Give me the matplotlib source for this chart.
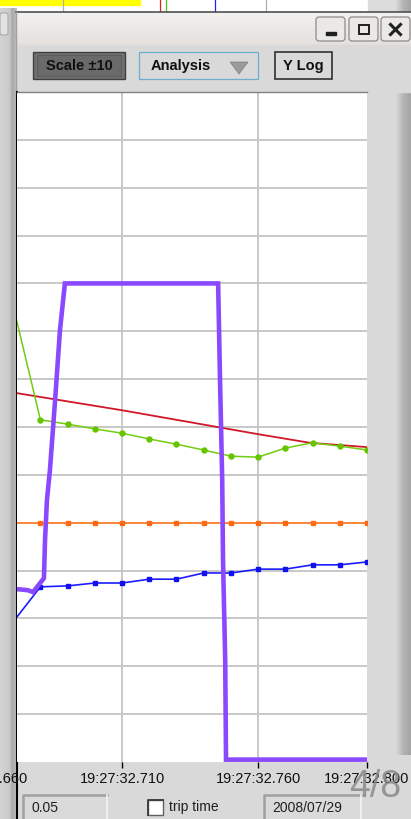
import matplotlib
matplotlib.use('Agg')
import matplotlib.pyplot as plt
import numpy as np
from matplotlib.patches import Rectangle, FancyBboxPatch, Polygon
from matplotlib.ticker import FuncFormatter, FixedLocator
from matplotlib.colors import to_rgb

plt.rcParams['font.family'] = ['Liberation Sans', 'DejaVu Sans']

# ---------------- data (time in ms after 19:27:32) ----------------
marker_t = [670, 680, 690, 700, 710, 720, 730, 740, 750, 760, 770, 780, 790, 800]
green_vals = [9.53, 7.15, 7.06, 6.96, 6.87, 6.75, 6.64, 6.52, 6.39, 6.37, 6.56, 6.67, 6.60, 6.52]
orange_vals = [5.0, 5.0, 5.0, 5.0, 5.0, 5.0, 5.0, 5.0, 5.0, 5.0, 5.0, 5.0, 5.0, 5.0]
blue_vals = [2.93, 3.66, 3.68, 3.74, 3.74, 3.82, 3.82, 3.95, 3.95, 4.03, 4.03, 4.12, 4.12, 4.18]

red_t = [670, 710, 739, 760, 779, 800]
red_vals = [7.72, 7.35, 7.06, 6.85, 6.67, 6.58]

purple_t = [670, 675.4, 677.3, 679.9, 681.3, 681.7, 682.4, 683.5, 685.4, 687.2, 689.0,
            745.3, 746.0, 746.8, 747.1, 747.9, 748.2, 800]
purple_vals = [3.62, 3.59, 3.55, 3.74, 3.84, 4.64, 5.47, 6.10, 7.56, 9.03, 10.0,
               10.0, 7.98, 5.89, 4.22, 2.13, 0.05, 0.05]

x_ticks = [710, 760, 800]
hidden_tick = 660
time_prefix = "19:27:32."
y_grid = [1, 2, 3, 4, 5, 6, 7, 8, 9, 10, 11, 12, 13]

W, H = 411, 819
fig = plt.figure(figsize=(W / 100, H / 100), dpi=100)
fig.patch.set_facecolor('#d9d9d9')

bg = fig.add_axes([0, 0, 1, 1], zorder=0)
bg.set_axis_off()


def grad(ax, x0, x1, y0, y1, stops, horizontal=True):
    n = 64
    pos = np.linspace(0, 1, n)
    sp = [s[0] for s in stops]
    cols = np.array([to_rgb(s[1]) for s in stops])
    arr = np.stack([np.interp(pos, sp, cols[:, k]) for k in range(3)], axis=-1)
    if horizontal:
        img = arr[np.newaxis, :, :]
    else:
        img = arr[:, np.newaxis, :]
    ax.imshow(img, extent=(x0, x1, y1, y0), origin='upper', aspect='auto',
              interpolation='bilinear', zorder=1)


# top strip (window behind)
bg.add_patch(Rectangle((0, 0), 368, 12, color='white', zorder=1))
bg.add_patch(Rectangle((0, 0), 140, 5, color='#ffff00', zorder=2))
for xx, c in [(63, '#b0b0b0'), (160, '#e02020'), (166, '#50c020'), (215, '#2020ff'), (266, '#b0b0b0')]:
    bg.plot([xx, xx], [0, 11], color=c, lw=0.9, zorder=2)
bg.add_patch(Rectangle((368, 0), 43, 12, color='#dcdcdc', zorder=1))

# right gradient strip
grad(bg, 396, 411, 0, 755, [(0, '#d8d8d8'), (0.5, '#b4b4b4'), (1, '#a4a4a4')])

# left strip (another window)
grad(bg, 0, 16, 8, 819, [(0, '#d4d4d4'), (0.55, '#cacaca'), (0.75, '#a8a8a8'), (1, '#c4c4c4')])
bg.add_patch(FancyBboxPatch((0, 13), 8, 22, boxstyle='round,pad=0,rounding_size=2',
                            fc='#e2e2e2', ec='#a8a8a8', lw=0.8, zorder=2))

# title bar
grad(bg, 16, 411, 12, 45, [(0, '#f4f2f0'), (1, '#e3e0dd')], horizontal=False)
bg.plot([16, 411], [12, 12], color='#505050', lw=1.2, zorder=3)
bg.plot([16, 16], [12, 92], color='#a0a0a0', lw=1.0, zorder=3)

# window buttons
for x0, glyph in [(316, 'min'), (349, 'max'), (381, 'close')]:
    bg.add_patch(FancyBboxPatch((x0, 17), 29, 24, boxstyle='round,pad=0,rounding_size=3',
                                fc='#ebe9e6', ec='#8c8c8c', lw=0.9, zorder=4))
    cx = x0 + 14.5
    if glyph == 'min':
        bg.add_patch(Rectangle((cx - 5, 32), 10, 2.5, color='#202020', zorder=5))
    elif glyph == 'max':
        bg.add_patch(Rectangle((cx - 5, 24.5), 10, 9.5, fill=False, ec='#202020', lw=1.4, zorder=5))
    else:
        bg.plot([cx - 5, cx + 5], [24.5, 34.5], color='#202020', lw=2.2, zorder=5)
        bg.plot([cx - 5, cx + 5], [34.5, 24.5], color='#202020', lw=2.2, zorder=5)

# toolbar
bg.add_patch(Rectangle((16, 45), 395, 47, color='#d9d9d9', zorder=2))
bg.add_patch(Rectangle((33, 52), 92, 27, fc='#707070', ec='#404040', lw=1.0, zorder=4))
bg.add_patch(Rectangle((37, 55), 84, 21, fc='#6a6a6a', ec='#5a5a5a', lw=0.6, zorder=4))
bg.text(79, 66, 'Scale ±10', ha='center', va='center', fontsize=10.5, weight='bold',
        color='#101010', zorder=5)
grad(bg, 139, 258, 52, 79, [(0, '#b8f0ff'), (1, '#94dcf4')], horizontal=False)
bg.add_patch(Rectangle((139, 52), 119, 27, fill=False, ec='#6aaed0', lw=0.9, zorder=4))
bg.text(181, 66, 'Analysis', ha='center', va='center', fontsize=10.5, weight='bold',
        color='#101010', zorder=5)
bg.add_patch(Polygon([[230, 62], [248, 62], [239, 74]], closed=True, fc='#9a9a9a',
                     ec='#808080', lw=0.5, zorder=5))
grad(bg, 275, 332, 52, 79, [(0, '#b8f0ff'), (1, '#94dcf4')], horizontal=False)
bg.add_patch(Rectangle((275, 52), 57, 27, fill=False, ec='#303030', lw=1.2, zorder=4))
bg.text(303, 66, 'Y Log', ha='center', va='center', fontsize=10.5, weight='bold',
        color='#101010', zorder=5)

# black left border of plot window
bg.plot([16.5, 16.5], [92, 819], color='black', lw=1.5, zorder=6)

# bottom widgets
for x0, x1, txt in [(23, 107, '0.05'), (264, 361, '2008/07/29')]:
    bg.add_patch(Rectangle((x0, 795), x1 - x0, 26, fc='#dadada', ec='none', zorder=3))
    bg.plot([x0, x0, x1], [821, 795, 795], color='#a0a0a0', lw=1.8, zorder=4)
    bg.plot([x1, x1], [795, 821], color='#f4f4f4', lw=1.2, zorder=4)
    bg.text(x0 + 8, 808, txt, ha='left', va='center', fontsize=10, color='#202020', zorder=5)
bg.add_patch(Rectangle((148, 800), 15, 15, fc='white', ec='#606060', lw=1.0, zorder=4))
bg.plot([148, 148, 163], [815, 800, 800], color='#404040', lw=1.4, zorder=5)
bg.text(169, 807, 'trip time', ha='left', va='center', fontsize=10, color='#202020', zorder=5)

bg.set_xlim(0, W)
bg.set_ylim(H, 0)

# ---------------- plot ----------------
ax = fig.add_axes([17 / W, 57 / H, 350 / W, 670 / H], zorder=1)
ax.set_facecolor('white')
ax.set_xlim(671.4, 800)
ax.set_ylim(0, 14)

for yv in y_grid:
    ax.axhline(yv, color='#c4c4c4', lw=1.3, zorder=1)
for xv in x_ticks[:-1]:
    ax.axvline(xv, color='#c4c4c4', lw=1.3, zorder=1)

ax.plot(red_t, red_vals, color='#d01828', lw=1.3, zorder=3)
ax.plot(marker_t, green_vals, color='#72cc10', lw=1.1, marker='o', ms=3.6,
        mfc='#66c400', mec='#66c400', zorder=3)
ax.plot(marker_t, orange_vals, color='#ff8030', lw=1.3, marker='s', ms=3.4,
        mfc='#ff6a10', mec='#ff6a10', zorder=3)
ax.plot(marker_t, blue_vals, color='#1c1cff', lw=1.2, marker='s', ms=3.4,
        mfc='#1010f0', mec='#1010f0', zorder=3)
ax.plot(purple_t, purple_vals, color='#8a48ff', lw=3.3, zorder=4,
        solid_joinstyle='miter')

ax.xaxis.set_major_locator(FixedLocator(x_ticks))
ax.xaxis.set_major_formatter(FuncFormatter(lambda v, p: f"{time_prefix}{int(round(v)):03d}"))
ax.tick_params(axis='x', direction='out', length=4.5, width=1.0, color='black',
               pad=2.5, labelsize=10.5, labelcolor='#101010')
ax.set_yticks([])
for s in ['right', 'bottom', 'left']:
    ax.spines[s].set_visible(False)
ax.spines['top'].set_color('#808080')
ax.spines['top'].set_linewidth(1.0)

# partially visible tick label left of the view
ax.annotate(f"{time_prefix}{hidden_tick}", xy=(hidden_tick, 0), xycoords=ax.get_xaxis_transform(),
            xytext=(0, -7.2), textcoords='offset points', ha='center', va='top',
            fontsize=10.5, color='#101010', annotation_clip=False)

fig.text(375 / W, 1 - 787 / H, '4/8', ha='center', va='center', fontsize=27,
         color='#8a8a8a', alpha=0.85, zorder=10)

fig.savefig('out.png', dpi=100, facecolor=fig.get_facecolor())
